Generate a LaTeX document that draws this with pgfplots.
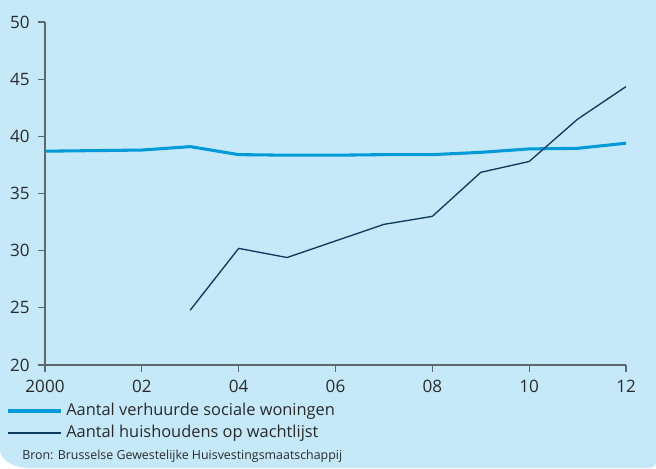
\documentclass[border=0pt]{standalone}
\usepackage{fontspec}
\setmainfont{Open Sans}
\usepackage{pgfplots}
\pgfplotsset{compat=1.18}

\definecolor{bg}{HTML}{C6E9F9}
\definecolor{lightline}{HTML}{009AD9}
\definecolor{darkline}{HTML}{0D3A5F}
\definecolor{axiscol}{HTML}{5E676C}
\definecolor{txt}{HTML}{2A2A2A}

\begin{document}
\begin{tikzpicture}
% background panel, bottom corners rounded
\fill[bg] (0pt,351pt) -- (492pt,351pt) -- (492pt,4pt)
  arc[start angle=0,end angle=-90,x radius=6pt,y radius=4pt]
  -- (22pt,0pt)
  arc[start angle=270,end angle=180,x radius=22pt,y radius=14pt]
  -- cycle;

\begin{axis}[
  at={(33.75pt,77.25pt)}, anchor=south west,
  scale only axis,
  width=435.75pt, height=257.25pt,
  xmin=2000, xmax=2012, ymin=20, ymax=50,
  axis x line*=bottom, axis y line*=left,
  axis line style={axiscol, line width=0.8pt},
  xtick={2000,2002,...,2012},
  xticklabels={2000,02,04,06,08,10,12},
  ytick={20,25,...,50},
  tick align=outside,
  major tick length=5pt,
  tick style={axiscol, line width=0.8pt},
  ticklabel style={font=\fontsize{12.8}{15}\selectfont, text=txt},
  xticklabel style={yshift=-2.5pt},
  yticklabel style={xshift=-3pt},
  /pgf/number format/assume math mode=true,
  clip=false,
]
\addplot[lightline, line width=2.3pt, line join=round] coordinates {
  (2000,38.7) (2001,38.75) (2002,38.8) (2003,39.1) (2004,38.4)
  (2005,38.35) (2006,38.35) (2007,38.4) (2008,38.4) (2009,38.6)
  (2010,38.9) (2011,38.95) (2012,39.4)
};
\addplot[darkline, line width=1pt, line join=round] coordinates {
  (2003,24.8) (2004,30.2) (2005,29.4) (2006,30.85) (2007,32.3)
  (2008,33.0) (2009,36.85) (2010,37.8) (2011,41.5) (2012,44.35)
};
\end{axis}

% legend
\draw[lightline, line width=2.3pt] (6pt,42.75pt) -- (45.75pt,42.75pt);
\node[anchor=west, inner sep=0pt, text=txt, font=\fontsize{12.3}{15}\selectfont]
  at (49.5pt,42.75pt) {Aantal verhuurde sociale woningen};
\draw[darkline, line width=1pt] (6pt,26.25pt) -- (45.75pt,26.25pt);
\node[anchor=west, inner sep=0pt, text=txt, font=\fontsize{12.3}{15}\selectfont]
  at (49.5pt,26.25pt) {Aantal huishoudens op wachtlijst};
\node[anchor=west, inner sep=0pt, text=txt, font=\fontsize{9.3}{11}\selectfont]
  at (16.5pt,8.5pt) {Bron: Brusselse Gewestelijke Huisvestingsmaatschappij};
\end{tikzpicture}
\end{document}
